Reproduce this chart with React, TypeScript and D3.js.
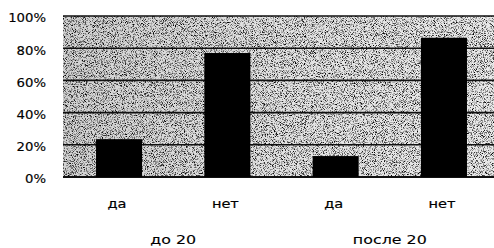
import React from "react";
import * as d3 from "d3";

const categories = ["да", "нет", "да", "нет"];
const values = [0.235, 0.77, 0.13, 0.865];
const groups = ["до 20", "после 20"];
const yTicks = [0, 0.2, 0.4, 0.6, 0.8, 1.0];

const W = 494;
const H = 248;
const plotLeft = 63;
const plotRight = 500;
const plotTop = 16;
const plotBottom = 177;

export default function App() {
  const x = d3
    .scaleBand<number>()
    .domain(d3.range(categories.length))
    .range([plotLeft, plotRight])
    .paddingInner(0.575)
    .paddingOuter(0.305);
  const y = d3.scaleLinear().domain([0, 1]).range([plotBottom, plotTop]);
  const fmt = d3.format(".0%");
  const font = "'DejaVu Sans', sans-serif";
  const pw = plotRight - plotLeft;
  const ph = plotBottom - plotTop;

  return (
    <svg
      width={W}
      height={H}
      style={{ position: "absolute", left: 0, top: 0, background: "#fff" }}
    >
      <defs>
        <filter id="grain" x="0" y="0" width="100%" height="100%">
          <feTurbulence type="fractalNoise" baseFrequency="1.1" numOctaves="2" seed="7" result="t" />
          <feColorMatrix
            in="t"
            type="matrix"
            values="0 0 0 0 0  0 0 0 0 0  0 0 0 0 0  3.4 0 0 0 -1.62"
          />
        </filter>
        <linearGradient id="shade" x1="0" x2="1" y1="0" y2="0">
          <stop offset="0" stopColor="#000" stopOpacity={0.14} />
          <stop offset="0.5" stopColor="#000" stopOpacity={0.07} />
          <stop offset="1" stopColor="#000" stopOpacity={0.04} />
        </linearGradient>
      </defs>
      <rect x={plotLeft} y={plotTop} width={pw} height={ph} fill="#f4f4f4" />
      <rect x={plotLeft} y={plotTop} width={pw} height={ph} fill="url(#shade)" />
      <rect x={plotLeft} y={plotTop} width={pw} height={ph} filter="url(#grain)" />
      {yTicks.map((t) => (
        <line
          key={t}
          x1={plotLeft}
          x2={plotRight}
          y1={y(t)}
          y2={y(t)}
          stroke="#111"
          strokeWidth={t === 0 ? 2 : 1.6}
        />
      ))}
      {values.map((v, i) => (
        <rect
          key={i}
          x={x(i)}
          y={y(v)}
          width={x.bandwidth()}
          height={plotBottom - y(v)}
          fill="#000"
        />
      ))}
      {yTicks.map((t) => (
        <text
          key={t}
          transform={`translate(46,${y(t) + 6.3}) scale(1.06,1)`}
          textAnchor="end"
          fontFamily={font}
          fontSize={12.5}
          fill="#000"
          stroke="#000"
          strokeWidth={0.15}
        >
          {fmt(t)}
        </text>
      ))}
      {categories.map((c, i) => (
        <text
          key={i}
          transform={`translate(${(x(i) as number) + x.bandwidth() / 2 - 2},207.5) scale(1.12,1)`}
          textAnchor="middle"
          fontFamily={font}
          fontSize={13}
          fill="#000"
          stroke="#000"
          strokeWidth={0.2}
        >
          {c}
        </text>
      ))}
      {groups.map((g, gi) => {
        const cx =
          ((x(gi * 2) as number) + (x(gi * 2 + 1) as number) + x.bandwidth()) / 2;
        return (
          <text
            key={g}
            transform={`translate(${cx},244) scale(1.22,1)`}
            textAnchor="middle"
            fontFamily={font}
            fontSize={13}
            fill="#000"
            stroke="#000"
            strokeWidth={0.12}
          >
            {g}
          </text>
        );
      })}
    </svg>
  );
}
